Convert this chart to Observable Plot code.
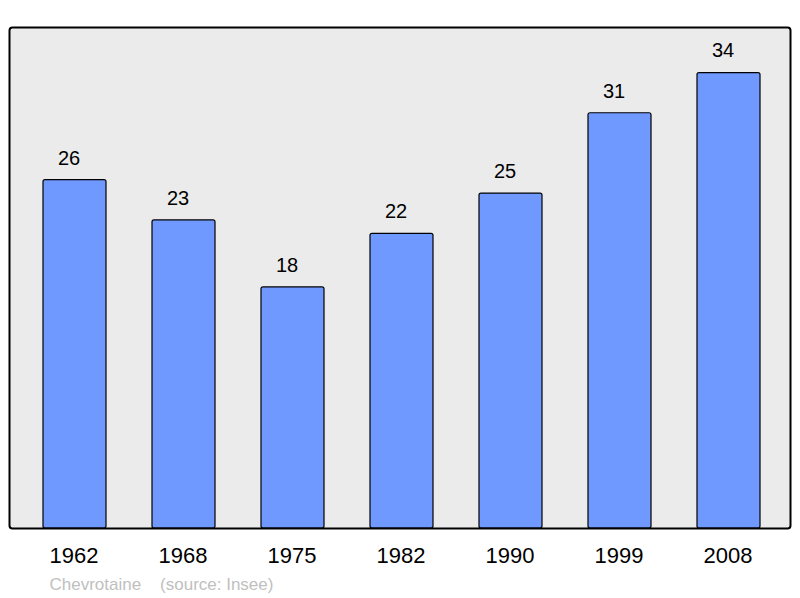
<!DOCTYPE html>
<html><head><meta charset="utf-8">
<script src="https://cdn.jsdelivr.net/npm/d3@7"></script>
<script src="https://cdn.jsdelivr.net/npm/@observablehq/plot@0.6"></script>
<style>
body{margin:0;background:#fff;font-family:"Liberation Sans",Arial,sans-serif;}
</style></head><body>
<div id="chart"></div>
<script>
const years = ["1962","1968","1975","1982","1990","1999","2008"];
const population = [26,23,18,22,25,31,34];
const caption = "Chevrotaine    (source: Insee)";

const data = years.map((y,i)=>({year:y, value:population[i]}));

const chart = Plot.plot({
  width: 800,
  height: 598,
  marginLeft: 9,
  marginRight: 10,
  marginTop: 27,
  marginBottom: 70,
  style: {fontFamily: '"Liberation Sans", Arial, sans-serif', background: "#fff", overflow: "visible"},
  x: {domain: years, insetLeft: 33, insetRight: 28, paddingInner: 0.42, paddingOuter: 0, label: null},
  y: {domain: [0, 37.4], axis: null},
  marks: [
    Plot.frame({fill: "#ebebeb", stroke: "none"}),
    Plot.barY(data, {x: "year", y: "value", fill: "#7099ff", stroke: "#000", strokeWidth: 1.2, rx: 2}),
    Plot.text(data, {x: "year", y: "value", text: d => String(d.value), dy: -22, dx: -6, fontSize: 20, fill: "#000"}),
    Plot.axisX({tickSize: 0, tickPadding: 19, fontSize: 22, color: "#000", label: null, dx: -1}),
    Plot.frame({stroke: "#000", strokeWidth: 2, rx: 3}),
    Plot.text([caption], {frameAnchor: "bottom-left", dx: 40, dy: 56, text: d => d, fontSize: 17, fill: "#c0c0c0", textAnchor: "start", lineAnchor: "middle"})
  ]
});
document.getElementById("chart").appendChild(chart);
</script></body></html>
